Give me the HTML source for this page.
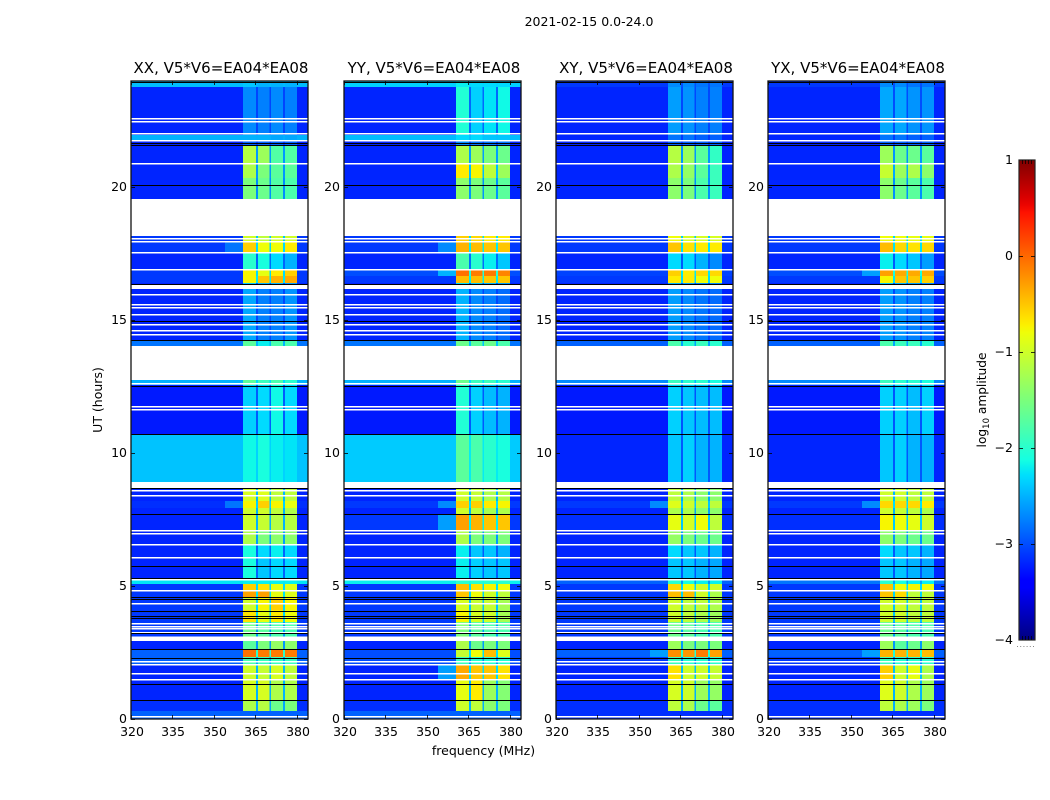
<!DOCTYPE html>
<html lang="en">
<head>
<meta charset="utf-8">
<title>2021-02-15 0.0-24.0</title>
<style>
html,body{margin:0;padding:0;background:#fff;width:1050px;height:800px;overflow:hidden}
svg{display:block;font-family:"DejaVu Sans","Liberation Sans",sans-serif;fill:#000}
</style>
</head>
<body>
<svg id="figure" width="1050" height="800" viewBox="0 0 1050 800" xmlns="http://www.w3.org/2000/svg">
  <text x="589" y="26" text-anchor="middle" font-size="12.5">2021-02-15 0.0-24.0</text>
  <text x="483.5" y="755" text-anchor="middle" font-size="12.5">frequency (MHz)</text>
  <text transform="translate(102,400) rotate(-90)" text-anchor="middle" font-size="12.5">UT (hours)</text>
  <text transform="translate(986,400) rotate(-90)" text-anchor="middle" font-size="12.2">log<tspan dy="3" font-size="8.5">10</tspan><tspan dy="-3"> amplitude</tspan></text>
  <defs><linearGradient id="jet-gradient" x1="0" y1="1" x2="0" y2="0"></linearGradient></defs>
  <g id="panels"></g>
  <g id="colorbar"></g>
</svg>
<script>
// ---- Axis data ----
const panelTitles = ["XX, V5*V6=EA04*EA08", "YY, V5*V6=EA04*EA08", "XY, V5*V6=EA04*EA08", "YX, V5*V6=EA04*EA08"];
const freqTicks = [320, 335, 350, 365, 380];
const timeTicks = [0, 5, 10, 15, 20];
const colorTicks = [1, 0, -1, -2, -3, -4];

// ---- Frequency columns (MHz): background, four spectral windows with gaps ----
const windowStarts = [360.5, 366, 370.6, 375.7];
const windowEnds = [365.2, 370, 375, 380];

// ---- Time bands (hours, top to bottom) ----
const rowEdges = [24,23.77,21.97,21.78,21.56,20.92,20.35,19.56,18.17,17.98,17.53,16.89,16.66,16.40,16.18,14.22,14.03,12.75,12.56,10.72,8.92,8.69,8.20,7.94,7.71,7.11,6.58,6.09,5.27,5.08,4.85,4.59,4.10,3.65,2.93,2.60,2.33,2.03,1.47,0.71,0.30,0];

// ---- Band-mean log10 amplitudes per band: [background, window1..window4]; null = no data ----
const xxRows = [
[-2.45,-2.4,-2.5,-2.5,-2.5],[-3.2,-2.7,-2.75,-2.7,-2.75],[-2.5,-2.5,-2.5,-2.55,-2.55],[-3.2,-2.9,-2.9,-2.9,-2.9],
[-3.2,-1.15,-1.3,-1.75,-1.75],[-3.2,-1.2,-1.5,-1.7,-1.7],[-3.2,-1.5,-1.6,-1.75,-1.8],null,
[-3.1,-1.0,-1.1,-1.0,-1.0],[-3.1,-0.55,-0.8,-0.8,-0.7],[-3.2,-2.0,-2.1,-2.3,-2.5],[-3.1,-0.75,-0.85,-0.7,-0.55],
[-3.1,-0.75,-0.5,-0.4,-0.35],[-3.2,-2.4,-2.5,-2.5,-2.6],[-3.2,-2.55,-2.75,-2.75,-2.65],[-2.8,-1.7,-2.2,-1.8,-1.8],null,
[-2.5,-1.7,-1.9,-1.8,-2.0],[-3.25,-2.35,-2.3,-2.15,-2.3],[-2.42,-2.15,-2.1,-2.2,-2.25],null,
[-3.2,-0.95,-0.9,-1.1,-1.1],[-3.15,-0.75,-0.55,-0.75,-0.85],[-3.2,-1.0,-1.0,-1.1,-1.2],[-3.2,-1.0,-1.05,-1.15,-1.15],
[-3.2,-1.2,-1.5,-1.4,-1.4],[-3.2,-2.1,-2.3,-2.2,-2.3],[-3.2,-2.1,-2.4,-2.3,-2.3],[-2.25,-2.2,-2.2,-2.2,-2.2],
[-3.1,-0.55,-0.65,-0.85,-0.9],[-3.1,-0.3,-0.3,-0.85,-0.9],[-3.1,-1.0,-0.75,-0.55,-0.75],[-3.1,-0.65,-0.85,-0.7,-0.8],
[-3.1,-1.6,-1.7,-1.8,-1.8],[-3.2,-1.7,-1.5,-1.35,-1.4],[-2.9,-0.05,-0.1,-0.1,-0.1],[-2.9,-1.8,-1.9,-1.9,-1.9],
[-3.2,-1.0,-1.05,-0.95,-1.1],[-3.2,-0.95,-0.95,-1.2,-1.2],[-3.15,-1.2,-1.15,-1.6,-1.5],[-2.9,-2.9,-2.9,-2.9,-2.9]
];
const yyRows = [
[-2.35,-2.2,-2.3,-2.3,-2.3],[-3.2,-2.05,-2.35,-2.25,-2.15],[-2.45,-2.3,-2.3,-2.4,-2.4],[-3.2,-2.7,-2.8,-2.8,-2.8],
[-3.2,-1.2,-1.3,-1.5,-1.6],[-3.2,-0.7,-0.75,-1.1,-1.3],[-3.2,-1.4,-1.5,-1.6,-1.7],null,
[-3.1,-0.55,-0.6,-0.7,-0.7],[-3.1,-0.4,-0.45,-0.5,-0.5],[-3.2,-1.8,-2.0,-2.2,-2.4],[-3.0,-0.05,-0.1,-0.1,-0.15],
[-3.1,-0.45,-0.45,-0.5,-0.5],[-3.2,-2.3,-2.4,-2.5,-2.6],[-3.2,-2.5,-2.7,-2.75,-2.85],[-2.8,-1.6,-1.7,-1.6,-1.8],null,
[-2.5,-1.6,-1.9,-1.9,-2.0],[-3.25,-2.05,-2.35,-2.45,-2.5],[-2.38,-1.7,-1.8,-2.0,-2.1],null,
[-3.2,-1.0,-1.05,-1.2,-1.15],[-3.1,-0.55,-0.55,-0.7,-0.75],[-3.2,-1.0,-1.1,-1.25,-1.2],[-3.1,-0.3,-0.4,-0.5,-0.5],
[-3.2,-1.2,-1.5,-1.5,-1.5],[-3.2,-2.2,-2.4,-2.4,-2.5],[-3.2,-2.2,-2.35,-2.4,-2.4],[-2.2,-2.0,-2.0,-2.0,-2.0],
[-3.1,-0.45,-0.65,-0.75,-0.8],[-3.1,-0.5,-0.8,-1.0,-1.1],[-3.1,-0.95,-1.05,-1.05,-1.25],[-3.1,-0.75,-0.95,-1.0,-1.25],
[-3.1,-1.5,-1.7,-1.8,-1.8],[-3.2,-1.2,-1.6,-1.5,-1.5],[-3.0,-1.05,-0.8,-0.45,-0.9],[-3.0,-1.9,-2.0,-2.0,-2.0],
[-3.2,-0.35,-0.5,-0.5,-0.65],[-3.2,-0.85,-0.7,-1.3,-1.45],[-3.15,-1.0,-1.1,-1.4,-1.5],[-2.9,-2.9,-2.9,-2.9,-2.9]
];
const xyRows = [
[-3.1,-2.7,-2.7,-2.8,-2.8],[-3.2,-2.6,-2.65,-2.75,-2.75],[-3.2,-2.8,-2.8,-2.9,-2.9],[-3.2,-2.9,-2.9,-2.9,-2.9],
[-3.2,-1.15,-1.3,-1.7,-1.95],[-3.2,-1.2,-1.35,-1.7,-1.9],[-3.2,-1.4,-1.5,-1.8,-1.9],null,
[-3.1,-0.8,-0.95,-0.95,-0.95],[-3.1,-0.5,-0.65,-0.7,-0.7],[-3.2,-2.3,-2.3,-2.5,-2.7],[-3.05,-0.55,-0.7,-0.6,-0.6],
[-3.1,-0.7,-0.7,-0.8,-0.8],[-3.2,-2.5,-2.6,-2.7,-2.7],[-3.2,-2.6,-2.7,-2.8,-2.85],[-2.9,-1.8,-2.0,-1.9,-2.0],null,
[-2.7,-1.9,-2.0,-2.0,-2.1],[-3.25,-2.35,-2.4,-2.45,-2.45],[-3.2,-2.4,-2.35,-2.5,-2.5],null,
[-3.2,-1.1,-1.2,-1.4,-1.4],[-3.1,-0.9,-1.0,-1.1,-1.1],[-3.2,-1.2,-1.2,-1.4,-1.4],[-3.15,-0.85,-0.95,-0.8,-1.1],
[-3.2,-1.35,-1.5,-1.6,-1.6],[-3.2,-2.3,-2.4,-2.4,-2.5],[-3.2,-2.4,-2.4,-2.5,-2.55],[-2.9,-2.0,-2.1,-2.2,-2.2],
[-3.1,-0.6,-0.8,-1.0,-1.0],[-3.1,-0.45,-0.45,-1.0,-1.2],[-3.1,-1.0,-1.1,-1.1,-1.2],[-3.1,-1.0,-1.1,-1.2,-1.3],
[-3.1,-1.6,-1.7,-1.8,-1.8],[-3.2,-1.3,-1.5,-1.5,-1.5],[-2.9,-0.2,-0.25,-0.1,-0.3],[-3.1,-1.9,-2.0,-2.0,-2.0],
[-3.2,-0.65,-1.0,-1.0,-1.05],[-3.2,-0.95,-1.0,-1.3,-1.35],[-3.15,-1.1,-1.2,-1.6,-1.7],[-3.15,-3.15,-3.15,-3.15,-3.15]
];
const yxRows = [
[-3.1,-2.7,-2.7,-2.8,-2.8],[-3.2,-2.55,-2.55,-2.65,-2.65],[-3.2,-2.8,-2.8,-2.9,-2.9],[-3.2,-2.9,-2.9,-2.9,-2.9],
[-3.2,-1.3,-1.6,-1.6,-1.7],[-3.2,-1.05,-1.3,-1.2,-1.4],[-3.2,-1.4,-1.6,-1.7,-1.8],null,
[-3.1,-0.8,-0.8,-0.85,-0.85],[-3.1,-0.45,-0.6,-0.65,-0.6],[-3.2,-2.2,-2.3,-2.4,-2.6],[-3.0,-0.3,-0.35,-0.35,-0.35],
[-3.1,-0.75,-0.5,-0.5,-0.55],[-3.2,-2.4,-2.5,-2.6,-2.7],[-3.2,-2.6,-2.65,-2.75,-2.75],[-2.9,-1.8,-1.9,-1.9,-2.0],null,
[-2.7,-1.9,-2.0,-2.0,-2.1],[-3.25,-2.35,-2.35,-2.45,-2.35],[-3.2,-2.4,-2.35,-2.5,-2.5],null,
[-3.2,-1.0,-1.0,-1.1,-1.1],[-3.1,-0.6,-0.6,-0.6,-0.7],[-3.2,-1.0,-1.05,-1.1,-1.2],[-3.15,-0.75,-0.8,-0.85,-1.0],
[-3.2,-1.4,-1.5,-1.6,-1.6],[-3.2,-2.3,-2.4,-2.4,-2.5],[-3.2,-2.4,-2.4,-2.5,-2.55],[-2.8,-2.0,-2.1,-2.2,-2.2],
[-3.1,-0.5,-0.8,-0.75,-0.8],[-3.1,-0.5,-0.6,-1.1,-1.1],[-3.1,-1.0,-1.0,-1.1,-1.1],[-3.1,-1.0,-1.0,-1.1,-1.1],
[-3.1,-1.6,-1.7,-1.8,-1.8],[-3.2,-1.3,-1.7,-1.6,-1.4],[-2.9,-0.4,-0.4,-0.4,-0.45],[-3.1,-1.9,-2.0,-2.0,-2.0],
[-3.2,-0.55,-1.0,-0.85,-1.2],[-3.2,-0.9,-1.0,-1.2,-1.3],[-3.15,-1.1,-1.2,-1.3,-1.5],[-3.15,-3.15,-3.15,-3.15,-3.15]
];
const panelRows = [xxRows, yyRows, xyRows, yxRows];

// ---- Shoulder brightening just below the first window (354-360.5 MHz) ----
const shoulderPanel = [0,0,1,1,1,1,1,2,2,3,3,3];
const shoulderRow = [9,22,9,11,22,24,37,22,35,11,22,35];
const shoulderValue = [-2.8,-2.8,-2.7,-2.5,-2.7,-2.6,-2.6,-2.7,-2.6,-2.6,-2.7,-2.6];

// ---- Flagged integrations (hours, top to bottom) ----
const whiteFlagHours = [22.6,22.51,22.03,21.77,20.93,18.09,18.0,17.56,16.92,15.99,15.6,15.5,15.22,14.85,14.62,14.47,12.65,11.79,11.68,8.61,8.41,7.12,6.99,6.57,6.08,5.25,4.84,4.35,3.62,3.51,3.41,3.28,2.18,2.08,1.72,0.10];
const whiteSpanStarts = [16.33,8.92,3.10,1.51];
const whiteSpanEnds = [16.18,8.73,2.93,1.44];
const blackFlagHours = [23.97,21.65,21.6,20.08,16.38,14.97,14.25,12.51,10.71,8.70,7.7,5.74,5.29,4.59,4.52,4.07,3.87,3.81,3.23,2.62,2.28,1.30,0.70];

// ---- Layout ----
const panelLefts = [131, 344, 556, 768];
const panelWidth = 177;
const plotTop = 81, plotBottom = 719;
const freqMin = 320, freqMax = 384, timeMin = 0, timeMax = 24;
const colorMin = -4, colorMax = 1, barLeft = 1019, barRight = 1035, barTop = 160, barBottom = 640;

const xScale = (f, left) => left + (f - freqMin) / (freqMax - freqMin) * panelWidth;
const yScale = t => plotBottom - (t - timeMin) / (timeMax - timeMin) * (plotBottom - plotTop);
const cScale = v => barBottom - (v - colorMin) / (colorMax - colorMin) * (barBottom - barTop);

function jet(v) {
  const t = Math.max(0, Math.min(1, (v - colorMin) / (colorMax - colorMin)));
  const lerp = (pts) => {
    for (let i = 1; i < pts.length; i++) {
      if (t <= pts[i][0]) {
        const a = pts[i - 1], b = pts[i];
        return a[1] + (b[1] - a[1]) * (t - a[0]) / (b[0] - a[0]);
      }
    }
    return pts[pts.length - 1][1];
  };
  const r = lerp([[0,0],[0.35,0],[0.66,1],[0.89,1],[1,0.5]]);
  const g = lerp([[0,0],[0.125,0],[0.375,1],[0.64,1],[0.91,0],[1,0]]);
  const b = lerp([[0,0.5],[0.11,1],[0.34,1],[0.65,0],[1,0]]);
  return "rgb(" + Math.round(r * 255) + "," + Math.round(g * 255) + "," + Math.round(b * 255) + ")";
}

const NS = "http://www.w3.org/2000/svg";
function mk(tag, attrs, parent) {
  const el = document.createElementNS(NS, tag);
  for (const k in attrs) el.setAttribute(k, attrs[k]);
  parent.appendChild(el);
  return el;
}
function cell(parent, x0, x1, y0, y1, value) {
  const el = mk("rect", {x: x0, y: y0, width: x1 - x0, height: y1 - y0, fill: jet(value), "shape-rendering": "crispEdges"}, parent);
  
  
}

const panelsGroup = document.getElementById("panels");
panelLefts.forEach((left, p) => {
  const g = mk("g", {}, panelsGroup);
  
  
  const right = left + panelWidth;

  const title = mk("text", {x: left + panelWidth / 2 + 1.5, y: 73, "text-anchor": "middle", "font-size": 15}, g);
  title.textContent = panelTitles[p];
  
  

  const rows = panelRows[p];
  rows.forEach((row, i) => {
    if (!row) return;
    const y0 = yScale(rowEdges[i]), y1 = yScale(rowEdges[i + 1]);
    const bg = row[0];
    cell(g, left, right, y0, y1, bg);
    const wins = row.slice(1);
    const mean = wins.reduce((a, b) => a + b, 0) / wins.length;
    // gap between windows: estimated between the row's background and window level
    cell(g, xScale(windowStarts[0], left), xScale(windowEnds[3], left), y0, y1, (2 * bg + mean) / 3);
    wins.forEach((v, w) => {
      cell(g, xScale(windowStarts[w], left), xScale(windowEnds[w], left), y0, y1, v);
    });
  });

  shoulderPanel.forEach((sp, i) => {
    if (sp !== p) return;
    const r = shoulderRow[i];
    cell(g, xScale(354, left), xScale(windowStarts[0], left), yScale(rowEdges[r]), yScale(rowEdges[r + 1]), shoulderValue[i]);
  });

  whiteFlagHours.forEach(h => {
    const y = Math.round(yScale(h));
    const el = mk("rect", {x: left, y: y - 0.1, width: panelWidth, height: 1.5, fill: "#fff", "shape-rendering": "crispEdges"}, g);
    
    
  });
  whiteSpanStarts.forEach((h, i) => {
    const el = mk("rect", {x: left, y: yScale(h), width: panelWidth, height: yScale(whiteSpanEnds[i]) - yScale(h), fill: "#fff", "shape-rendering": "crispEdges"}, g);
    
    
  });
  blackFlagHours.forEach(h => {
    const y = Math.round(yScale(h));
    const el = mk("rect", {x: left, y: y, width: panelWidth, height: 1, fill: "#000", "shape-rendering": "crispEdges"}, g);
    
    
  });

  // ticks
  freqTicks.forEach(f => {
    const x = Math.round(xScale(f, left)) + 0.5;
    const t1 = mk("line", {x1: x, x2: x, y1: plotBottom, y2: plotBottom - 4, stroke: "#000", "stroke-width": 0.8}, g);
    
    
    const t2 = mk("line", {x1: x, x2: x, y1: plotTop, y2: plotTop + 4, stroke: "#000", "stroke-width": 0.8}, g);
    
    
    const lab = mk("text", {x: x + 0.5, y: 736, "text-anchor": "middle", "font-size": 12.5}, g);
    lab.textContent = f;
    
    
  });
  timeTicks.forEach(t => {
    const y = Math.round(yScale(t)) + 0.5;
    const t1 = mk("line", {x1: left, x2: left + 4, y1: y, y2: y, stroke: "#000", "stroke-width": 0.8}, g);
    
    
    const t2 = mk("line", {x1: right, x2: right - 4, y1: y, y2: y, stroke: "#000", "stroke-width": 0.8}, g);
    
    
    const lab = mk("text", {x: left - 4, y: y + 3.6, "text-anchor": "end", "font-size": 12.5}, g);
    lab.textContent = t;
    
    
  });

  const frame = mk("rect", {x: left, y: plotTop, width: panelWidth, height: plotBottom - plotTop, fill: "none", stroke: "#111", "stroke-width": 1.3}, g);
  
  
});

// ---- Colorbar ----
const grad = document.getElementById("jet-gradient");
for (let i = 0; i <= 64; i++) {
  const v = colorMin + (colorMax - colorMin) * i / 64;
  mk("stop", {offset: (i / 64 * 100) + "%", "stop-color": jet(v)}, grad);
}
const cb = document.getElementById("colorbar");
const barRect = mk("rect", {x: barLeft, y: barTop, width: barRight - barLeft, height: barBottom - barTop, fill: "url(#jet-gradient)", stroke: "#222", "stroke-width": 1.2}, cb);


colorTicks.forEach(v => {
  const y = Math.round(cScale(v)) + 0.5;
  if (v !== colorMin && v !== colorMax) {
    const a = mk("line", {x1: barLeft, x2: barLeft + 4, y1: y, y2: y, stroke: "#000", "stroke-width": 0.8}, cb);
    
    
    const b = mk("line", {x1: barRight, x2: barRight - 4, y1: y, y2: y, stroke: "#000", "stroke-width": 0.8}, cb);
    
    
  }
  const lab = mk("text", {x: 1013, y: y + 3.6, "text-anchor": "end", "font-size": 12.5}, cb);
  lab.textContent = v < 0 ? "\u2212" + Math.abs(v) : String(v);
  
  
});
for (let k = 0; k < 4; k++) {
  const x = barLeft + 3.5 + k * 3;
  const a = mk("line", {x1: x, x2: x, y1: barTop, y2: barTop + 4, stroke: "#000", "stroke-width": 0.7}, cb);
  
  
  const b = mk("line", {x1: x, x2: x, y1: barBottom, y2: barBottom - 4, stroke: "#000", "stroke-width": 0.7}, cb);
  
  
}
const dots = mk("line", {x1: 1017, x2: 1036, y1: 646.5, y2: 646.5, stroke: "#888", "stroke-width": 1, "stroke-dasharray": "1 2.2"}, cb);


</script>
</body>
</html>
